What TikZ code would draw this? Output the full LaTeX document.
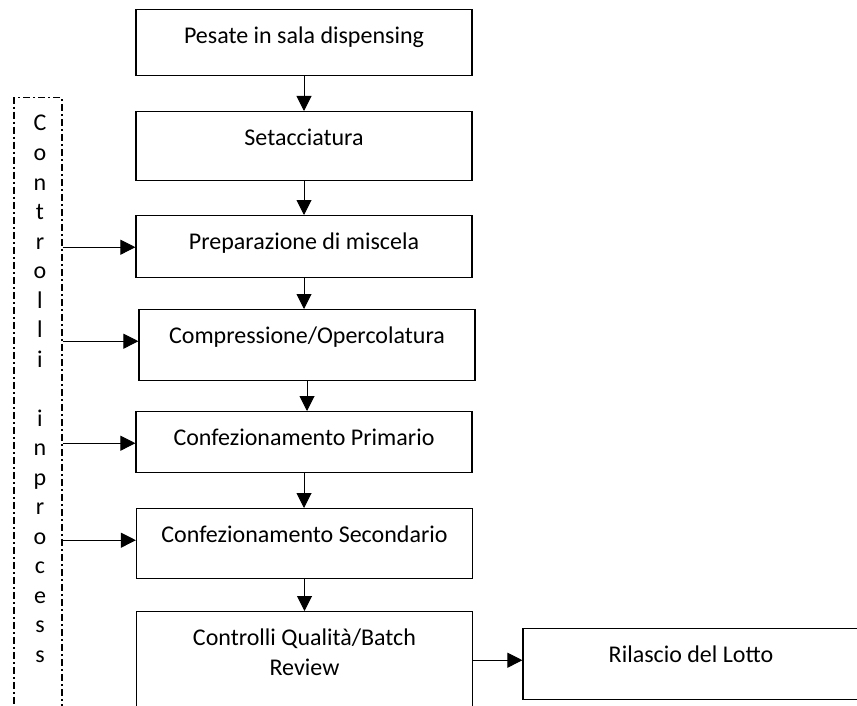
\documentclass[tikz,border=0pt]{standalone}
\usepackage{fontspec}
\setmainfont{Carlito}
\usetikzlibrary{arrows.meta}

\begin{document}
\begin{tikzpicture}[x=1pt,y=-1pt]
					\tikzstyle{stepbox}=[draw,line width=1.2pt,minimum width=336pt,inner xsep=0pt,inner ysep=0pt,text height=34pt,anchor=north,align=center,font=\fontsize{24pt}{29.5pt}\selectfont]
					\tikzstyle{ctrlbox}=[draw,line width=1.5pt,dash pattern=on 7pt off 3pt on 2pt off 3pt,minimum width=48pt,minimum height=700pt,inner sep=0pt,anchor=north]
					\tikzstyle{letter}=[anchor=base,inner sep=0pt,font=\fontsize{24pt}{29.5pt}\selectfont]
					\tikzstyle{every path}=[>={Triangle[length=15pt,width=15pt]}]
					\tikzstyle{flow}=[->,line width=1pt]
					\useasboundingbox (0,0) rectangle (857,706);
					\clip (0,0) rectangle (857,706);
					% main sequence
					\node[stepbox,text depth=32pt] (pesate) at (304,9) {Pesate in sala dispensing};
					\node[stepbox,text depth=35pt] (setacc) at (304,111) {Setacciatura};
					\node[stepbox,text depth=28pt] (prep) at (304,215) {Preparazione di miscela};
					\node[stepbox,text depth=37pt] (compr) at (307,309) {Compressione/Opercolatura};
					\node[stepbox,text depth=27pt] (confprim) at (304,411) {Confezionamento Primario};
					\node[stepbox,text depth=36pt] (confsec) at (304.5,508) {Confezionamento Secondario};
					\node[stepbox,text height=63.5pt,text depth=100pt] (qc) at (304.5,611) {Controlli Qualità/Batch\\Review};
					\node[stepbox,text depth=37pt] (rilascio) at (691,628) {Rilascio del Lotto};
					% in-process controls
					\node[ctrlbox] (ctrl) at (38,97) {};
					\foreach \ch [count=\k from 0] in {C,o,n,t,r,o,l,l,i}
						\node[letter] (ctl\k) at (40,{131+29.5*\k}) {\ch};
					\foreach \ch [count=\k from 10] in {i,n,p,r,o,c,e,s,s}
						\node[letter] (inp\k) at (40,{131+29.5*\k}) {\ch};
					% connectors
					\draw[flow] (pesate.south) -- (pesate.south |- setacc.north);
					\draw[flow] (setacc.south) -- (setacc.south |- prep.north);
					\draw[flow] (prep.south) -- (prep.south |- compr.north);
					\draw[flow] (compr.south) -- (compr.south |- confprim.north);
					\draw[flow] (confprim.south) -- (confprim.south |- confsec.north);
					\draw[flow] (confsec.south) -- (confsec.south |- qc.north);
					\draw[flow] (qc.east |- rilascio.mid west) -- (rilascio.mid west);
					\draw[flow] (ctrl.east |- prep.mid west) -- (prep.mid west);
					\draw[flow] (ctrl.east |- compr.mid west) -- (compr.mid west);
					\draw[flow] (ctrl.east |- confprim.mid west) -- (confprim.mid west);
					\draw[flow] (ctrl.east |- confsec.mid west) -- (confsec.mid west);
\end{tikzpicture}
\end{document}
